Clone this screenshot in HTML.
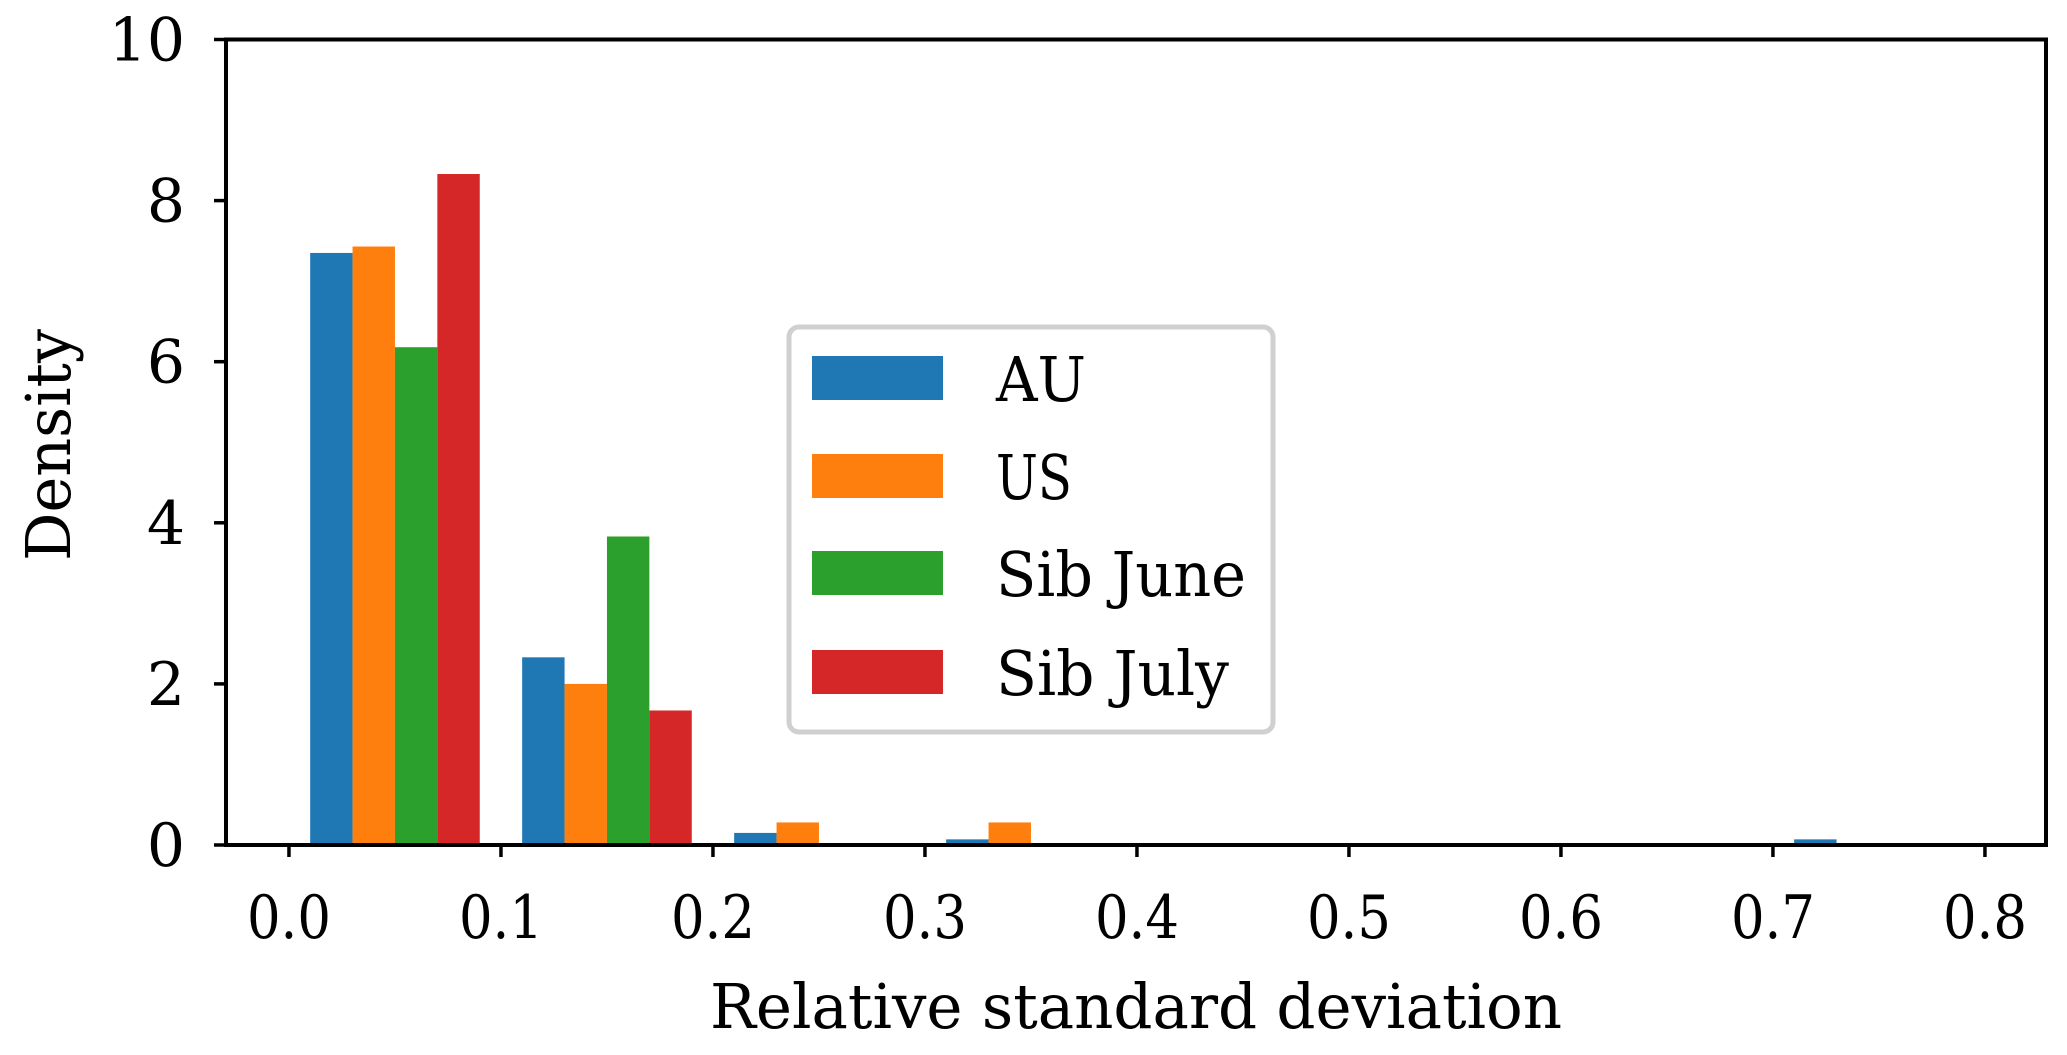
<!DOCTYPE html>
<html><head><meta charset="utf-8"><style>
html,body{margin:0;padding:0;background:#fff;}
svg text{font-family:"DejaVu Serif","Liberation Serif",serif;fill:#000;}
</style></head><body>
<svg id="chart" width="2067" height="1050" xmlns="http://www.w3.org/2000/svg">
<g id="bars"></g>
<g id="axes"></g>
<g id="legend"></g>
</svg>
<script>
const binCenters = [0.05, 0.15, 0.25, 0.35, 0.45, 0.55, 0.65, 0.75];
const seriesNames = ["AU", "US", "Sib June", "Sib July"];
const auValues = [7.35, 2.33, 0.15, 0.07, 0, 0, 0, 0.07];
const usValues = [7.43, 2.0, 0.28, 0.28, 0, 0, 0, 0];
const sibJuneValues = [6.18, 3.83, 0, 0, 0, 0, 0, 0];
const sibJulyValues = [8.33, 1.67, 0, 0, 0, 0, 0, 0];
const xTicks = [0.0, 0.1, 0.2, 0.3, 0.4, 0.5, 0.6, 0.7, 0.8];
const xTickLabels = ["0.0","0.1","0.2","0.3","0.4","0.5","0.6","0.7","0.8"];
const yTicks = [0, 2, 4, 6, 8, 10];
const yTickLabels = ["0","2","4","6","8","10"];

const colors = ["#1f77b4","#ff7f0e","#2ca02c","#d62728"];
const allSeries = [auValues, usValues, sibJuneValues, sibJulyValues];
const L=226, R=2046, T=39.5, B=845;
const xMin=-0.0297, xMax=0.8288, yMin=0, yMax=10;
const xs = v => L + (v-xMin)/(xMax-xMin)*(R-L);
const ys = v => B - (v-yMin)/(yMax-yMin)*(B-T);
const NS="http://www.w3.org/2000/svg";
function mk(tag, attrs, parent){const e=document.createElementNS(NS,tag);for(const k in attrs)e.setAttribute(k,attrs[k]);parent.appendChild(e);return e;}

const barsG=document.getElementById('bars');
const groupW=0.08, barW=groupW/4;
allSeries.forEach((vals,si)=>{
  vals.forEach((v,bi)=>{
    if(v<=0) return;
    const x0=binCenters[bi]-groupW/2+si*barW;
    const r=mk('rect',{x:xs(x0),y:ys(v),width:xs(x0+barW)-xs(x0),height:ys(0)-ys(v),fill:colors[si]},barsG);
    
    
  });
});

const ax=document.getElementById('axes');
const frame=mk('rect',{x:L,y:T,width:R-L,height:B-T,fill:'none',stroke:'#000','stroke-width':4},ax);


xTicks.forEach((t,i)=>{
  const x=xs(t);
  const tk=mk('line',{x1:x,y1:B,x2:x,y2:B+12,stroke:'#000','stroke-width':3.5},ax);
  
  
  const tx=mk('text',{x:x,y:938,'text-anchor':'middle','font-size':60,textLength:84,lengthAdjust:'spacingAndGlyphs'},ax);
  tx.textContent=xTickLabels[i];
  
  
});
yTicks.forEach((t,i)=>{
  const y=ys(t);
  const tk=mk('line',{x1:L-12,y1:y,x2:L,y2:y,stroke:'#000','stroke-width':3.5},ax);
  
  
  const tx=mk('text',{x:185,y:y+21,'text-anchor':'end','font-size':60},ax);
  tx.textContent=yTickLabels[i];
  
  
});
const xl=mk('text',{x:1136,y:1028,'text-anchor':'middle','font-size':62,textLength:852,lengthAdjust:'spacingAndGlyphs'},ax);
xl.textContent='Relative standard deviation';


const yl=mk('text',{x:0,y:0,'text-anchor':'middle','font-size':62,textLength:232,lengthAdjust:'spacingAndGlyphs',transform:'translate(70,445) rotate(-90)'},ax);
yl.textContent='Density';



const lg=document.getElementById('legend');
const box=mk('rect',{x:789,y:327,width:484,height:405,rx:10,fill:'#fff',stroke:'#d0d0d0','stroke-width':5},lg);


const rowY=[378,476,573,672];
const legendW=[90,76,250,233];
seriesNames.forEach((n,i)=>{
  const g=mk('g',{},lg);
  
  
  mk('rect',{x:812,y:rowY[i]-22,width:131,height:44,fill:colors[i]},g);
  const t=mk('text',{x:996,y:rowY[i]+23,'font-size':62,textLength:legendW[i],lengthAdjust:'spacingAndGlyphs'},g);
  t.textContent=n;
});
</script>
</body></html>
